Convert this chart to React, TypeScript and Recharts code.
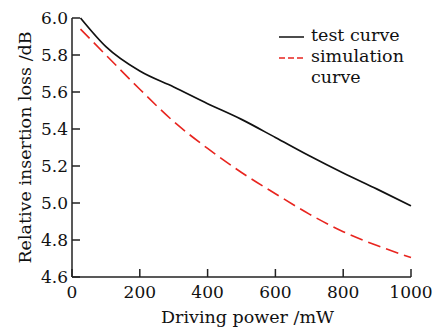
import { LineChart, Line, XAxis, YAxis } from "recharts";
import type { CSSProperties } from "react";

const powers = [25, 100, 200, 300, 400, 500, 600, 700, 800, 900, 1000];
const testCurve = [6.0, 5.845, 5.713, 5.627, 5.537, 5.452, 5.354, 5.255, 5.162, 5.075, 4.985];
const simCurve = [5.94, 5.8, 5.615, 5.44, 5.295, 5.165, 5.05, 4.94, 4.845, 4.77, 4.705];

const xTicks = [0, 200, 400, 600, 800, 1000];
const yTicks = [4.6, 4.8, 5.0, 5.2, 5.4, 5.6, 5.8, 6.0];

const series = [
  { key: "test", name: "test curve", color: "#111111", dash: undefined },
  { key: "sim", name: "simulation curve", color: "#e8251f", dash: "13 6" },
];

const data = powers.map((p, i) => ({ power: p, test: testCurve[i], sim: simCurve[i] }));

const FONT = "DejaVu Serif";
const AXIS = "#222";
const TICK_LEN = 8;
const X_MARGIN = 8;
const Y_MARGIN = 4;

const XTick = (props: any) => {
  const { x, y, payload } = props;
  const axisY = y - X_MARGIN;
  return (
    <g>
      <line x1={x} x2={x} y1={axisY} y2={axisY - TICK_LEN} stroke={AXIS} strokeWidth={1.5} />
      <text x={x} y={y} dy="0.75em" textAnchor="middle" fontFamily={FONT} fontSize={17} fill="#111">
        {payload.value}
      </text>
    </g>
  );
};

const YTick = (props: any) => {
  const { x, y, payload } = props;
  const axisX = x + Y_MARGIN;
  return (
    <g>
      <line x1={axisX} x2={axisX + TICK_LEN} y1={y} y2={y} stroke={AXIS} strokeWidth={1.5} />
      <text x={x} y={y} dy="0.36em" textAnchor="end" fontFamily={FONT} fontSize={17} fill="#111">
        {Number(payload.value).toFixed(1)}
      </text>
    </g>
  );
};

const XLabel = (props: any) => {
  const vb = props.viewBox;
  return (
    <text x={vb.x + vb.width / 2 + 6} y={vb.y + 46} textAnchor="middle" fontFamily={FONT} fontSize={17.5} fill="#111">
      Driving power /mW
    </text>
  );
};

const YLabel = (props: any) => {
  const vb = props.viewBox;
  const cx = 31;
  const cy = vb.y + vb.height / 2;
  return (
    <text x={cx} y={cy} transform={`rotate(-90, ${cx}, ${cy})`} textAnchor="middle" fontFamily={FONT} fontSize={17.5} fill="#111">
      Relative insertion loss /dB
    </text>
  );
};

const legendText: CSSProperties = {
  fontFamily: FONT,
  fontSize: 17.5,
  lineHeight: "21px",
  color: "#111",
  width: 110,
};

// legend sits outside the svg so it takes no room from the plot
const LegendBox = () => (
  <div style={{ position: "absolute", top: 25, left: 279 }}>
    {series.map((s) => (
      <div key={s.key} style={{ display: "flex", alignItems: "flex-start" }}>
        <svg width={32} height={20} style={{ flex: "none" }}>
          <line x1={0} x2={25} y1={12} y2={12} stroke={s.color} strokeWidth={1.5} strokeDasharray={s.dash ? "6 3" : undefined} />
        </svg>
        <div style={legendText}>{s.name}</div>
      </div>
    ))}
  </div>
);

export default function App() {
  return (
    <div style={{ position: "absolute", left: 0, top: 0, width: 444, height: 327, background: "#fff" }}>
      <LineChart width={444} height={327} data={data} margin={{ top: 18, right: 33, bottom: 0, left: 0 }}>
        <XAxis
          dataKey="power"
          type="number"
          domain={[0, 1000]}
          ticks={xTicks}
          height={50}
          tickSize={0}
          tickMargin={X_MARGIN}
          tickLine={false}
          tick={XTick}
          stroke={AXIS}
          strokeWidth={1.5}
          label={<XLabel />}
        />
        <YAxis
          type="number"
          domain={[4.6, 6.0]}
          ticks={yTicks}
          width={72}
          tickSize={0}
          tickMargin={Y_MARGIN}
          tickLine={false}
          tick={YTick}
          stroke={AXIS}
          strokeWidth={1.5}
          label={<YLabel />}
        />
        {series.map((s) => (
          <Line
            key={s.key}
            dataKey={s.key}
            name={s.name}
            type="monotone"
            stroke={s.color}
            strokeWidth={s.key === "test" ? 1.7 : 1.6}
            strokeDasharray={s.dash}
            dot={false}
            isAnimationActive={false}
          />
        ))}
      </LineChart>
      <LegendBox />
    </div>
  );
}
